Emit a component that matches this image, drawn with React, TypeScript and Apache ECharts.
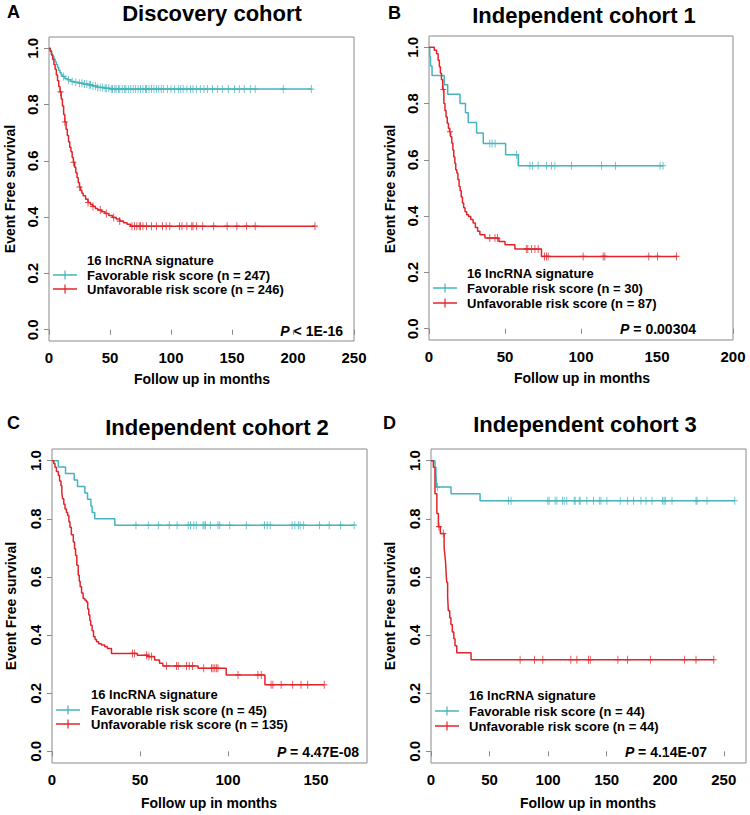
import React, { useEffect, useRef } from "react";
import * as echarts from "echarts";

// ---------- Data ----------
// Panel A: Discovery cohort
const aFavT = [0, 1, 2, 3, 4, 5, 6, 7, 8, 9, 10, 11, 13, 15, 18, 21, 24, 28, 32, 36, 40, 45, 50];
const aFavS = [1, 0.99, 0.98, 0.972, 0.962, 0.952, 0.942, 0.932, 0.922, 0.913, 0.906, 0.9, 0.893, 0.888, 0.882, 0.879, 0.876, 0.873, 0.87, 0.866, 0.861, 0.858, 0.855];
const aFavCens = [12, 16, 19, 22, 25, 27, 29, 31, 33, 34, 36, 38, 40, 42, 44, 46, 47, 49, 51, 52, 54, 55, 57, 58, 60, 62, 63, 65, 67, 69, 71, 73, 75, 77, 79, 80, 82, 84, 86, 88, 90, 92, 94, 97, 100, 103, 106, 108, 110, 113, 116, 118, 121, 124, 127, 130, 134, 138, 142, 147, 152, 156, 160, 165, 169, 192, 215];
const aUnfT = [0, 1, 2, 3, 4, 5, 6, 7, 8, 9, 10, 11, 12, 13, 14, 15, 16, 17, 18, 19, 20, 21, 22, 23, 24, 25, 26, 27, 28, 30, 32, 34, 36, 38, 40, 43, 46, 49, 52, 55, 58, 61, 64, 67];
const aUnfS = [1, 0.99, 0.976, 0.96, 0.942, 0.925, 0.905, 0.885, 0.864, 0.845, 0.82, 0.795, 0.765, 0.738, 0.712, 0.69, 0.668, 0.648, 0.632, 0.612, 0.595, 0.577, 0.558, 0.54, 0.522, 0.507, 0.495, 0.485, 0.476, 0.464, 0.452, 0.445, 0.438, 0.431, 0.425, 0.419, 0.413, 0.406, 0.399, 0.393, 0.386, 0.38, 0.375, 0.368];
const aUnfCens = [9.5, 13, 20, 25, 32, 36, 42, 47, 53, 58, 68, 70, 72, 74, 75, 77, 80, 84, 88, 93, 96, 99, 107, 109, 113, 117, 118, 121, 126, 135, 146, 154, 162, 169, 218];

// Panel B: Independent cohort 1
const bFavT = [0, 0.5, 1, 2, 10, 12.3, 20.4, 24, 25.8, 31.3, 35.7, 50.4, 58.7];
const bFavS = [1, 0.967, 0.933, 0.9, 0.867, 0.833, 0.8, 0.767, 0.733, 0.695, 0.658, 0.618, 0.579];
const bFavCens = [40, 41.5, 43.5, 57.5, 66.4, 68, 71.8, 77.3, 80.6, 82.8, 93.8, 113.5, 122.7, 152, 154];
const bUnfT = [0, 3.5, 5, 6, 6.8, 7.5, 8.2, 9, 9.8, 10.5, 11.2, 12, 12.8, 13.5, 14.2, 15, 15.7, 16.3, 17, 17.6, 18.3, 19, 19.8, 20.5, 21.2, 22, 22.8, 23.7, 24.8, 26, 27.5, 29, 30.5, 32, 33.5, 36.8, 46, 50, 56.5, 74];
const bUnfS = [1, 0.989, 0.977, 0.954, 0.931, 0.908, 0.885, 0.85, 0.8, 0.775, 0.752, 0.73, 0.712, 0.7, 0.682, 0.66, 0.635, 0.61, 0.588, 0.565, 0.553, 0.53, 0.505, 0.49, 0.468, 0.447, 0.43, 0.416, 0.405, 0.399, 0.388, 0.376, 0.36, 0.346, 0.334, 0.322, 0.31, 0.298, 0.283, 0.257];
const bUnfCens = [9.4, 13.8, 40, 43.4, 45, 64, 65, 67.5, 69.7, 71.8, 76, 77.3, 78.4, 101.4, 114.6, 115.7, 144.6, 150.3, 162.8];

// Panel C: Independent cohort 2
const cFavT = [0, 3.6, 7.7, 12.6, 14.5, 18.7, 20.2, 22.1, 22.8, 24.3, 35.7];
const cFavS = [1, 0.978, 0.956, 0.933, 0.911, 0.889, 0.867, 0.844, 0.822, 0.8, 0.778];
const cFavCens = [47.7, 54.7, 60.4, 66.6, 71.1, 77.4, 78.7, 80.6, 82, 85.8, 86.4, 87.2, 90, 94.3, 95.3, 101, 110.4, 120.8, 122.3, 124, 136.4, 138, 140, 141, 143, 152, 157.5, 164, 171.7];
const cUnfT = [0, 1, 1.7, 2.5, 3.6, 4.3, 5.1, 5.6, 6, 6.7, 7.4, 8.2, 8.9, 9.6, 10.2, 11, 12.1, 12.8, 13.4, 14.1, 14.9, 15.5, 16, 16.8, 17.7, 18.7, 19.6, 20.3, 20.9, 21.5, 22, 22.8, 23.6, 24.5, 25.3, 26.5, 28.1, 30, 31.5, 33.8, 48.5, 54.5, 58.3, 61.1, 63, 83, 99, 121];
const cUnfS = [1, 0.99, 0.977, 0.963, 0.949, 0.93, 0.914, 0.89, 0.869, 0.85, 0.834, 0.822, 0.811, 0.79, 0.771, 0.745, 0.72, 0.697, 0.674, 0.64, 0.606, 0.585, 0.566, 0.545, 0.526, 0.52, 0.514, 0.49, 0.469, 0.45, 0.434, 0.415, 0.394, 0.385, 0.377, 0.37, 0.366, 0.36, 0.354, 0.337, 0.331, 0.326, 0.314, 0.303, 0.294, 0.286, 0.263, 0.229];
const cUnfCens = [45.8, 46.8, 53.8, 55.1, 56.6, 65, 70.8, 71.7, 76.4, 78, 79.8, 86.2, 90.6, 91.5, 92.5, 93.4, 94.3, 105.7, 117, 118.9, 124.5, 125.5, 130.2, 136.8, 141.5, 145.3, 154.7];

// Panel D: Independent cohort 3
const dFavT = [0, 3.4, 4.2, 4.5, 4.8, 17.1, 41.9];
const dFavS = [1, 0.977, 0.955, 0.932, 0.909, 0.886, 0.862];
const dFavCens = [5.5, 66.1, 68.4, 99.8, 100.9, 106, 107.5, 112.3, 113.7, 116, 122.3, 123.1, 126.6, 127.4, 133.1, 138.8, 143.7, 145.1, 150.2, 161.6, 167.9, 173, 179.3, 183.6, 188.7, 197.8, 199, 200.1, 205.8, 226.3, 227.2, 235.7, 259.4];
const dUnfT = [0, 2, 3.4, 5, 6.3, 8, 11.2, 11.8, 12.4, 13, 13.5, 14.2, 14.8, 16, 17, 18.2, 19.5, 20.5, 22, 34.2];
const dUnfS = [1, 0.977, 0.886, 0.818, 0.773, 0.749, 0.701, 0.677, 0.653, 0.605, 0.581, 0.532, 0.484, 0.46, 0.436, 0.411, 0.387, 0.363, 0.339, 0.315];
const dUnfCens = [6.8, 10.5, 76.1, 88.4, 95.5, 119.4, 124.6, 134.5, 136, 159.6, 167.9, 187.3, 216.6, 226.3, 241.5];

// Texts
const panelLetters = ["A", "B", "C", "D"];
const panelTitles = ["Discovery cohort", "Independent cohort 1", "Independent cohort 2", "Independent cohort 3"];
const favLabels = ["Favorable risk score (n = 247)", "Favorable risk score (n = 30)", "Favorable risk score (n = 45)", "Favorable risk score (n = 44)"];
const unfLabels = ["Unfavorable risk score (n = 246)", "Unfavorable risk score (n = 87)", "Unfavorable risk score (n = 135)", "Unfavorable risk score (n = 44)"];
const pTexts = [" < 1E-16", " = 0.00304", " = 4.47E-08", " = 4.14E-07"];
const xMaxes = [250, 200, 179, 269];
const xTickSets = [[0, 50, 100, 150, 200, 250], [0, 50, 100, 150, 200], [0, 50, 100, 150], [0, 50, 100, 150, 200, 250]];
const yTicks = [0, 0.2, 0.4, 0.6, 0.8, 1.0];
const legendTitle = "16 lncRNA signature";
const xName = "Follow up in months";
const yName = "Event Free survival";

// ---------- Layout / style ----------
const FONT = '"Liberation Sans", Arial, Helvetica, sans-serif';
const TEAL = "#45b4bd";
const RED = "#e2242a";
const BOX = "#8a8a8a";

const layouts = [
  { left: 49, top: 37, w: 305, h: 304, letter: [7, 12], title: [212, 13], xl: [202, 379], yl: [10, 189], leg: { lx: 53, tx: 87, y: [260, 275, 289] }, p: [343, 331] },
  { left: 429, top: 36, w: 304, h: 304, letter: [388, 13], title: [584, 15], xl: [582, 378], yl: [390, 189], leg: { lx: 433, tx: 467, y: [273, 288, 303] }, p: [696, 329] },
  { left: 52, top: 449, w: 315, h: 314, letter: [7, 423], title: [217, 427], xl: [209, 803], yl: [11, 606], leg: { lx: 56, tx: 91, y: [694, 710, 724] }, p: [359, 752] },
  { left: 431, top: 449, w: 315, h: 314, letter: [383, 423], title: [585, 424], xl: [588, 803], yl: [390, 606], leg: { lx: 435, tx: 469, y: [695, 711, 726] }, p: [707, 752] },
];

const curves = [
  [{ t: aFavT, s: aFavS, c: aFavCens }, { t: aUnfT, s: aUnfS, c: aUnfCens }],
  [{ t: bFavT, s: bFavS, c: bFavCens }, { t: bUnfT, s: bUnfS, c: bUnfCens }],
  [{ t: cFavT, s: cFavS, c: cFavCens }, { t: cUnfT, s: cUnfS, c: cUnfCens }],
  [{ t: dFavT, s: dFavS, c: dFavCens }, { t: dUnfT, s: dUnfS, c: dUnfCens }],
];

function survAt(t: number[], s: number[], x: number) {
  let v = s[0];
  for (let i = 0; i < t.length; i++) if (t[i] <= x) v = s[i];
  return v;
}

function buildOption() {
  const grid: any[] = [];
  const xAxis: any[] = [];
  const yAxis: any[] = [];
  const series: any[] = [];
  const graphic: any[] = [];
  const labelStyle = { fontFamily: FONT, fontWeight: "bold", fontSize: 15, color: "#000" };

  layouts.forEach((L, i) => {
    grid.push({ left: L.left, top: L.top, width: L.w, height: L.h, show: true, borderColor: BOX, borderWidth: 1, backgroundColor: "transparent", containLabel: false });
    xAxis.push({
      type: "value", gridIndex: i, min: 0, max: xMaxes[i],
      axisLine: { show: false },
      axisTick: { show: true, length: 5, lineStyle: { color: BOX }, customValues: xTickSets[i] },
      axisLabel: { ...labelStyle, margin: 9, customValues: xTickSets[i] },
      splitLine: { show: false },
    });
    yAxis.push({
      type: "value", gridIndex: i, min: -0.04, max: 1.04,
      axisLine: { show: false },
      axisTick: { show: true, length: 5, lineStyle: { color: BOX }, customValues: yTicks },
      axisLabel: { ...labelStyle, margin: 9, rotate: 90, customValues: yTicks, formatter: (v: number) => v.toFixed(1) },
      splitLine: { show: false },
    });
    curves[i].forEach((cv, k) => {
      const color = k === 0 ? TEAL : RED;
      const last = Math.max(...cv.c, cv.t[cv.t.length - 1]);
      const lineData = cv.t.map((tt, j) => [tt, cv.s[j]]);
      lineData.push([last, cv.s[cv.s.length - 1]]);
      series.push({
        type: "line", name: (k === 0 ? favLabels : unfLabels)[i], xAxisIndex: i, yAxisIndex: i, step: "end",
        showSymbol: false, symbol: "none", data: lineData, lineStyle: { color, width: 1.5 }, silent: true,
      });
      series.push({
        type: "scatter", xAxisIndex: i, yAxisIndex: i, symbol: "path://M0,5L10,5M5,0L5,10", symbolSize: [6, 8],
        itemStyle: { color: "none", borderColor: color, borderWidth: 1, opacity: 0.85 }, silent: true,
        data: cv.c.map((x) => [x, survAt(cv.t, cv.s, x)]),
      });
    });

    const txt = (x: number, y: number, text: string, size: number, align: string, extra: any = {}) => ({
      type: "text", x, y, silent: true, ...extra,
      style: { text, fontFamily: FONT, fontWeight: "bold", fontSize: size, fill: "#000", align, verticalAlign: "middle", textAlign: align, textVerticalAlign: "middle", ...(extra.style || {}) },
    });
    graphic.push(txt(L.letter[0], L.letter[1], panelLetters[i], 18, "left"));
    graphic.push(txt(L.title[0], L.title[1], panelTitles[i], 22, "center"));
    graphic.push(txt(L.xl[0], L.xl[1], xName, 14, "center"));
    graphic.push({ ...txt(L.yl[0], L.yl[1], yName, 14, "center"), rotation: Math.PI / 2 });
    graphic.push(txt(L.leg.tx, L.leg.y[0], legendTitle, 13, "left"));
    graphic.push(txt(L.leg.tx, L.leg.y[1], favLabels[i], 13, "left"));
    graphic.push(txt(L.leg.tx, L.leg.y[2], unfLabels[i], 13, "left"));
    [TEAL, RED].forEach((c, k) => {
      const y = L.leg.y[k + 1];
      graphic.push({ type: "line", silent: true, shape: { x1: L.leg.lx, y1: y, x2: L.leg.lx + 24, y2: y }, style: { stroke: c, lineWidth: 1.5 } });
      graphic.push({ type: "line", silent: true, shape: { x1: L.leg.lx + 12, y1: y - 4.5, x2: L.leg.lx + 12, y2: y + 4.5 }, style: { stroke: c, lineWidth: 1.2 } });
    });
    graphic.push({
      type: "text", x: L.p[0], y: L.p[1], silent: true,
      style: {
        text: "{i|P}{n|" + pTexts[i] + "}", align: "right", verticalAlign: "middle", textAlign: "right", textVerticalAlign: "middle",
        fontFamily: FONT, fontWeight: "bold", fontSize: 14, fill: "#000",
        rich: {
          i: { fontFamily: FONT, fontWeight: "bold", fontStyle: "italic", fontSize: 14, fill: "#000", color: "#000" },
          n: { fontFamily: FONT, fontWeight: "bold", fontSize: 14, fill: "#000", color: "#000" },
        },
      },
    });
  });

  return { animation: false, backgroundColor: "#fff", grid, xAxis, yAxis, series, graphic };
}

export default function App() {
  const ref = useRef<HTMLDivElement>(null);
  useEffect(() => {
    if (!ref.current) return;
    const chart = echarts.init(ref.current, null, { renderer: "svg" });
    chart.setOption(buildOption() as any);
    return () => chart.dispose();
  }, []);
  return <div ref={ref} style={{ position: "fixed", left: 0, top: 0, width: 750, height: 815, background: "#fff" }} />;
}
